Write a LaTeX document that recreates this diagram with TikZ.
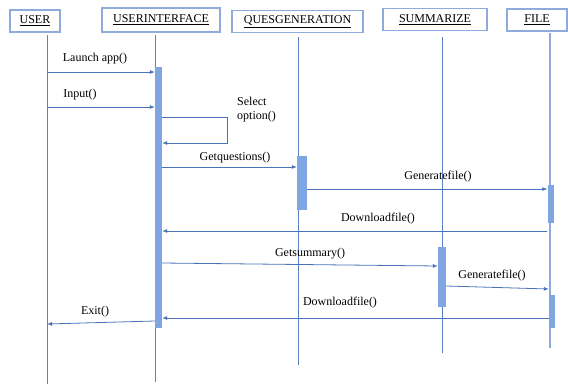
\documentclass[tikz,border=0pt]{standalone}
\usepackage{fontspec}
\setmainfont{Liberation Serif}
\usetikzlibrary{positioning}
\usetikzlibrary{arrows.meta}

\definecolor{boxline}{HTML}{8FAADC}
\definecolor{lifeline}{HTML}{5B7FC0}
\definecolor{barfill}{HTML}{7FA6E0}
\definecolor{msgline}{HTML}{4A72B8}

\tikzset{
  head/.style={draw=boxline,line width=1.4pt,fill=white,minimum height=22pt,inner sep=0pt,font=\fontsize{12}{14}\selectfont},
  life/.style={lifeline,line width=0.8pt},
  actbar/.style={fill=barfill,draw=none,inner sep=0pt,minimum width=#1},
  msg/.style={msgline,line width=0.8pt,-{Latex[length=5pt,width=4pt]}},
  lbl/.style={font=\fontsize{12}{14}\selectfont,inner sep=0pt,align=left}
}

\begin{document}
\begin{tikzpicture}[x=1pt,y=-1pt]
 \useasboundingbox (0,0) rectangle (568,386);
 % headers
 \node[head,minimum width=50pt] (user) at (35,21) {\underline{USER}};
 \node[head,minimum width=118pt,minimum height=24pt] (ui) at (161,20) {\underline{USERINTERFACE}};
 \node[head,minimum width=131pt] (qg) at (297.5,21.5) {\underline{QUESGENERATION}};
 \node[head,minimum width=104pt] (sum) at (435,19.5) {\underline{SUMMARIZE}};
 \node[head,minimum width=60pt] (file) at (537,20) {\underline{FILE}};
 % lifelines
 \draw[life] (47,35) -- (47,384);
 \draw[life] (155,35) -- (155,382);
 \draw[life] (298,37) -- (298,365);
 \draw[life] (442,37) -- (442,353);
 \draw[boxline,line width=2.5pt] (550,33) -- (550,348);
 % activation bars
 \node[actbar=7pt,minimum height=261pt] (uiBar) at (158.5,197.5) {};
 \node[actbar=10pt,minimum height=54pt] (qgBar) at (302,183) {};
 \node[actbar=6pt,minimum height=38pt] (fileBarA) at (550.5,204) {};
 \node[actbar=8pt,minimum height=60pt] (sumBar) at (442,277) {};
 \node[actbar=6pt,minimum height=33pt] (fileBarB) at (552,311.5) {};
 % messages
 \draw[msg] (47,72) -- (uiBar.west |- 0,72);
 \node[lbl] (launch) at (95,59) {Launch app()};
 \draw[msg] (47,107) -- (uiBar.west |- 0,107);
 \node[lbl] (input) at (80,95) {Input()};
 \coordinate (selA) at (227,117);
 \coordinate (selB) at (227,143);
 \draw[msg] (uiBar.east |- selA) -- (selA) -- (selB) -- (uiBar.east |- selB);
 \node[lbl,anchor=west] (select) at (237,110) {Select\\option()};
 \draw[msg] (uiBar.east |- 0,167) -- (qgBar.west |- 0,167);
 \node[lbl] (getq) at (235,158) {Getquestions()};
 \draw[msg] (qgBar.east |- 0,189) -- (fileBarA.west |- 0,189);
 \node[lbl] (genA) at (438,177) {Generatefile()};
 \draw[msg] (fileBarA.west |- 0,231) -- (uiBar.east |- 0,231);
 \node[lbl] (downA) at (378,219) {Downloadfile()};
 \draw[msg] (uiBar.east |- 0,263) -- (sumBar.west |- 0,266);
 \node[lbl] (gets) at (310,254) {Getsummary()};
 \draw[msg] (sumBar.east |- 0,286) -- (fileBarB.west |- 0,289);
 \node[lbl] (genB) at (492,276) {Generatefile()};
 \draw[msg] (fileBarB.west |- 0,318) -- (uiBar.east |- 0,318);
 \node[lbl] (downB) at (340,303) {Downloadfile()};
 \draw[msg] (uiBar.west |- 0,321) -- (47,324);
 \node[lbl] (exit) at (95,312) {Exit()};
\end{tikzpicture}
\end{document}
